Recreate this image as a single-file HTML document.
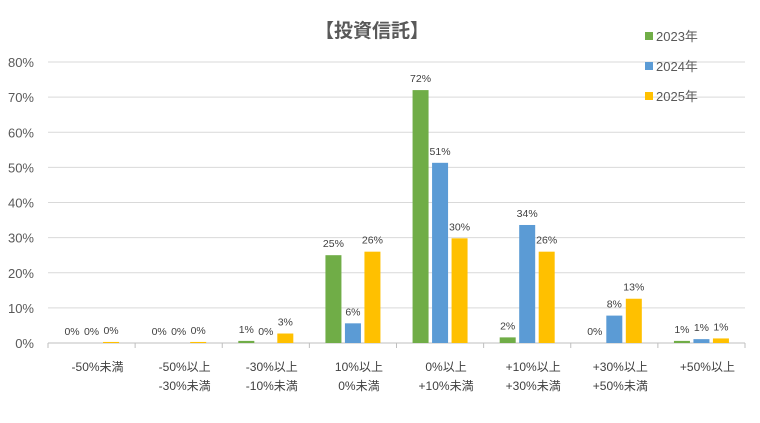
<!DOCTYPE html>
<html><head><meta charset="utf-8"><style>
body{margin:0;background:#fff;font-family:"Liberation Sans","Noto Sans CJK JP",sans-serif}
svg text{font-family:"Liberation Sans","Noto Sans CJK JP",sans-serif}
</style></head><body>
<svg id="c" width="760" height="418">
<text x="372" y="37" text-anchor="middle" font-size="19" font-weight="bold" fill="#595959">【投資信託】</text>
<g id="grid"></g><g id="bars"></g><g id="labels"></g>
<g id="legend"></g>
</svg>
<script>
const categories=[["-50%未満",""],["-50%以上","-30%未満"],["-30%以上","-10%未満"],["10%以上","0%未満"],["0%以上","+10%未満"],["+10%以上","+30%未満"],["+30%以上","+50%未満"],["+50%以上",""]];
const seriesNames=["2023年","2024年","2025年"];
const colors=["#70ad47","#5b9bd5","#ffc000"];
const s2023=[0,0,0.6,25,72,1.6,0,0.6];
const s2024=[0,0,0,5.6,51.3,33.6,7.8,1.1];
const s2025=[0.3,0.3,2.7,26,29.8,26,12.6,1.3];
const yTicks=[0,10,20,30,40,50,60,70,80];
const series=[s2023,s2024,s2025];
const NS="http://www.w3.org/2000/svg";
const X0=48,X1=745,Y0=343,Y1=62,YMAX=80;
const cw=(X1-X0)/categories.length;
const y=v=>Y0-(v/YMAX)*(Y0-Y1);
const xc=i=>X0+cw*(i+0.5);
function mk(tag,attrs,parent,txt){const e=document.createElementNS(NS,tag);for(const k in attrs)e.setAttribute(k,attrs[k]);if(txt!==undefined)e.textContent=txt;document.getElementById(parent).appendChild(e);return e;}
yTicks.forEach(t=>{
 const l=mk('line',{x1:X0,x2:X1,y1:y(t),y2:y(t),stroke:t===0?'#bfbfbf':'#d9d9d9','stroke-width':1},'grid');
 
 
 const tx=mk('text',{x:34,y:y(t)+5,'text-anchor':'end','font-size':13,fill:'#595959'},'grid',t+'%');
 
 
});
for(let i=0;i<=categories.length;i++){
 const tk=mk('line',{x1:X0+cw*i,x2:X0+cw*i,y1:Y0,y2:Y0+5,stroke:'#bfbfbf'},'grid');
 
 
}
const bw=16,gap=3.5;
categories.forEach((c,i)=>{
 series.forEach((s,j)=>{
  const v=s[i];const bx=xc(i)+(j-1)*(bw+gap)-bw/2;
  const r=mk('rect',{x:bx,y:y(v),width:bw,height:Math.max(0,Y0-y(v)),fill:colors[j]},'bars');
  
  
  const lb=mk('text',{x:bx+bw/2,y:y(v)-8,'text-anchor':'middle','font-size':10.5,fill:'#404040'},'bars',Math.round(v)+'%');
  
  
 });
 c.forEach((line,k)=>{if(!line)return;
  const t=mk('text',{x:xc(i)+6,y:371+k*19,'text-anchor':'middle','font-size':12,fill:'#404040'},'labels',line);
  
  
 });
});
seriesNames.forEach((n,j)=>{
 const r=mk('rect',{x:645,y:32+j*30,width:8,height:8,fill:colors[j]},'legend');
 
 
 const t=mk('text',{x:656,y:41+j*30,'font-size':13,fill:'#595959'},'legend',n);
 
 
});
</script>
</body></html>
